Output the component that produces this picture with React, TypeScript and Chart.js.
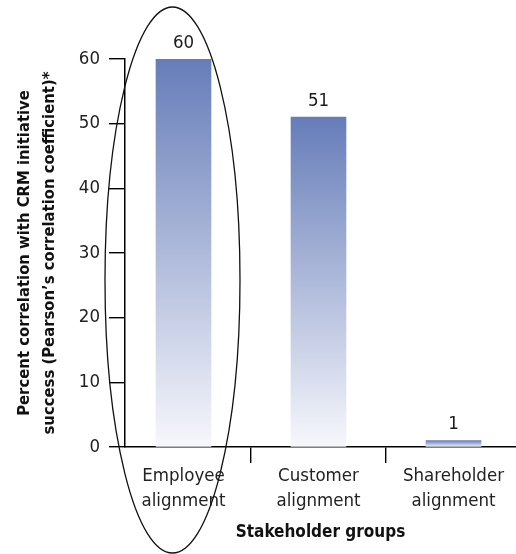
import React, { useEffect, useRef } from "react";
import { Chart, registerables } from "chart.js";

Chart.register(...registerables);

// ---- data ----
const categories: string[][] = [
  ["Employee", "alignment"],
  ["Customer", "alignment"],
  ["Shareholder", "alignment"],
];
const values: number[] = [60, 51, 1];
const yMin = 0;
const yMax = 60;
const yStep = 10;
const yTitle: string[] = [
  "Percent correlation with CRM initiative",
  "success (Pearson’s correlation coefficient)*",
];
const xTitle = "Stakeholder groups";

const FONT =
  '"Liberation Sans Narrow", "Arial Narrow", "DejaVu Sans Condensed", sans-serif';
const BAR_TOP = "#667db9";
const BAR_BOTTOM = "#f7f7fc";

const valueLabels = {
  id: "valueLabels",
  afterDatasetsDraw(chart: any) {
    const ctx = chart.ctx;
    const meta = chart.getDatasetMeta(0);
    ctx.save();
    ctx.font = `18.5px ${FONT}`;
    ctx.fillStyle = "#1a1a1a";
    ctx.textAlign = "center";
    ctx.textBaseline = "middle";
    meta.data.forEach((el: any, i: number) => {
      ctx.fillText(String(values[i]), el.x, el.y - 16);
    });
    ctx.restore();
  },
};

const ellipseHighlight = {
  id: "ellipseHighlight",
  afterDraw(chart: any) {
    const ctx = chart.ctx;
    const bar = chart.getDatasetMeta(0).data[0];
    if (!bar) return;
    const cx = bar.x - 11;
    const top = 7;
    const bottom = 553;
    ctx.save();
    ctx.beginPath();
    ctx.ellipse(cx, (top + bottom) / 2, 67.5, (bottom - top) / 2, 0, 0, Math.PI * 2);
    ctx.strokeStyle = "#111";
    ctx.lineWidth = 1.3;
    ctx.stroke();
    ctx.restore();
  },
};

export default function App() {
  const ref = useRef<HTMLCanvasElement | null>(null);

  useEffect(() => {
    if (!ref.current) return;
    const chart = new Chart(ref.current, {
      type: "bar",
      data: {
        datasets: [
          {
            data: values.map((v, i) => ({ x: i, y: v })),
            barThickness: 55,
            borderWidth: 0,
            backgroundColor: (c: any) => {
              const ch = c.chart;
              if (!ch.chartArea || c.raw == null) return BAR_TOP;
              const ys = ch.scales.y;
              const t = ys.getPixelForValue(c.raw.y);
              const b = ys.getPixelForValue(0);
              const g = ch.ctx.createLinearGradient(0, t, 0, b);
              g.addColorStop(0, BAR_TOP);
              g.addColorStop(1, BAR_BOTTOM);
              return g;
            },
          },
        ],
      },
      options: {
        animation: false,
        responsive: false,
        devicePixelRatio: 1,
        layout: { padding: { top: 59, left: 0, right: 0, bottom: 0 } },
        plugins: {
          legend: { display: false },
          tooltip: { enabled: false },
        },
        scales: {
          x: {
            type: "linear",
            offset: false,
            min: -0.4333,
            max: 2.463,
            afterBuildTicks: (s: any) => {
              s.ticks = categories.map((_, i) => ({ value: i }));
            },
            afterFit: (s: any) => {
              s.height = 107;
            },
            ticks: {
              callback: (v: any) => categories[Math.round(Number(v))] ?? "",
              font: { family: FONT, size: 18.5, lineHeight: "25px" },
              color: "#222",
              padding: 1,
              maxRotation: 0,
              autoSkip: false,
            },
            grid: {
              display: true,
              drawOnChartArea: false,
              drawTicks: true,
              tickLength: 16,
              offset: true,
              color: "#000",
              lineWidth: 1.4,
            },
            border: { display: true, color: "#000", width: 1.5 },
            title: {
              display: true,
              text: xTitle,
              font: { family: FONT, size: 17, weight: "bold", lineHeight: "22px" },
              color: "#111",
              padding: { top: 0, bottom: 10 },
            },
          },
          y: {
            min: yMin,
            max: yMax,
            afterFit: (s: any) => {
              s.width = 125;
            },
            ticks: {
              stepSize: yStep,
              font: { family: FONT, size: 18.5 },
              color: "#222",
              padding: 9,
            },
            grid: {
              display: true,
              drawOnChartArea: false,
              drawTicks: true,
              tickLength: 16,
              color: "#000",
              lineWidth: 1.4,
            },
            border: { display: true, color: "#000", width: 1.5 },
            title: {
              display: true,
              text: yTitle,
              font: { family: FONT, size: 16.5, weight: "bold", lineHeight: "25px" },
              color: "#111",
              padding: { top: 12.5, bottom: 0 },
            },
          },
        },
      } as any,
      plugins: [valueLabels, ellipseHighlight],
    });
    return () => chart.destroy();
  }, []);

  return (
    <div style={{ position: "fixed", left: 0, top: 0, width: 516, height: 554, background: "#fff" }}>
      <canvas ref={ref} width={516} height={554} style={{ display: "block" }} />
    </div>
  );
}
